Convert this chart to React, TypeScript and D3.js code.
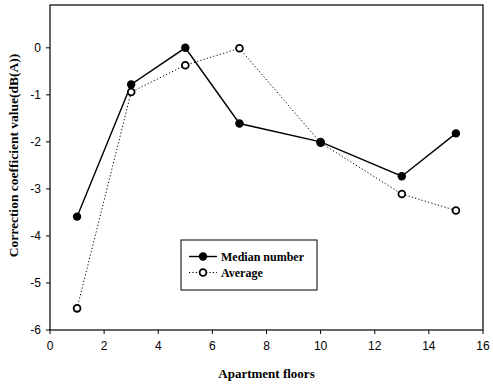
import React from "react";
import * as d3 from "d3";

const floors = [1, 3, 5, 7, 10, 13, 15];
const medianValues = [-3.59, -0.78, 0.0, -1.61, -2.0, -2.73, -1.82];
const averageValues = [-5.54, -0.94, -0.37, -0.01, -2.02, -3.11, -3.46];
const xTicks = [0, 2, 4, 6, 8, 10, 12, 14, 16];
const yTicks = [-6, -5, -4, -3, -2, -1, 0];

const W = 493;
const H = 385;
const left = 50;
const right = 483;
const top = 5;
const bottom = 330;

export default function App() {
  const x = d3.scaleLinear().domain([0, 16]).range([left, right]);
  const y = d3.scaleLinear().domain([-6, 0.91]).range([bottom, top]);

  const line = d3
    .line<number>()
    .x((_, i) => x(floors[i]))
    .y((d) => y(d));

  const tickFont = "Liberation Sans, Arial, sans-serif";
  const labelFont = "Liberation Serif, Times New Roman, serif";

  return (
    <svg
      width={W}
      height={H}
      style={{ position: "absolute", left: 0, top: 0, background: "#fff" }}
    >
      {/* frame */}
      <rect
        x={left}
        y={top}
        width={right - left}
        height={bottom - top}
        fill="none"
        stroke="#000"
        strokeWidth={1.2}
      />
      {/* x ticks */}
      {xTicks.map((t) => (
        <g key={"x" + t}>
          <line x1={x(t)} x2={x(t)} y1={bottom} y2={bottom + 4} stroke="#000" strokeWidth={1} />
          <text
            x={x(t)}
            y={bottom + 20}
            textAnchor="middle"
            fontFamily={tickFont}
            fontSize={12}
            fill="#000"
          >
            {t}
          </text>
        </g>
      ))}
      {/* y ticks */}
      {yTicks.map((t) => (
        <g key={"y" + t}>
          <line x1={left - 4} x2={left} y1={y(t)} y2={y(t)} stroke="#000" strokeWidth={1} />
          <text
            x={left - 9}
            y={y(t) + 4}
            textAnchor="end"
            fontFamily={tickFont}
            fontSize={12}
            fill="#000"
          >
            {t}
          </text>
        </g>
      ))}
      {/* axis titles */}
      <text
        x={(left + right) / 2}
        y={378}
        textAnchor="middle"
        fontFamily={labelFont}
        fontWeight="bold"
        fontSize={13}
        fill="#000"
      >
        Apartment floors
      </text>
      <text
        transform={`translate(18, ${(top + bottom) / 2 - 12}) rotate(-90)`}
        textAnchor="middle"
        fontFamily={labelFont}
        fontWeight="bold"
        fontSize={13.5}
        fill="#000"
      >
        Correction coefficient value(dB(A))
      </text>

      {/* average series */}
      <path
        d={line(averageValues) || ""}
        fill="none"
        stroke="#000"
        strokeWidth={1}
        strokeDasharray="1.2,2.2"
      />
      {/* median series */}
      <path d={line(medianValues) || ""} fill="none" stroke="#000" strokeWidth={1.4} />
      {averageValues.map((v, i) => (
        <circle
          key={"a" + i}
          cx={x(floors[i])}
          cy={y(v)}
          r={3.4}
          fill="#fff"
          stroke="#000"
          strokeWidth={1.8}
        />
      ))}
      {medianValues.map((v, i) => (
        <circle key={"m" + i} cx={x(floors[i])} cy={y(v)} r={4.2} fill="#000" />
      ))}

      {/* legend */}
      <rect x={181} y={240} width={136} height={50} fill="#fff" stroke="#000" strokeWidth={1} />
      <line x1={189} x2={217} y1={256.5} y2={256.5} stroke="#000" strokeWidth={1.4} />
      <circle cx={203} cy={256.5} r={4.2} fill="#000" />
      <text x={221} y={260.5} fontFamily={labelFont} fontWeight="bold" fontSize={12} fill="#000">
        Median number
      </text>
      <line
        x1={189}
        x2={217}
        y1={272.5}
        y2={272.5}
        stroke="#000"
        strokeWidth={1}
        strokeDasharray="1.2,2.2"
      />
      <circle cx={203} cy={272.5} r={3.4} fill="#fff" stroke="#000" strokeWidth={1.8} />
      <text x={221} y={276.5} fontFamily={labelFont} fontWeight="bold" fontSize={12} fill="#000">
        Average
      </text>
    </svg>
  );
}
